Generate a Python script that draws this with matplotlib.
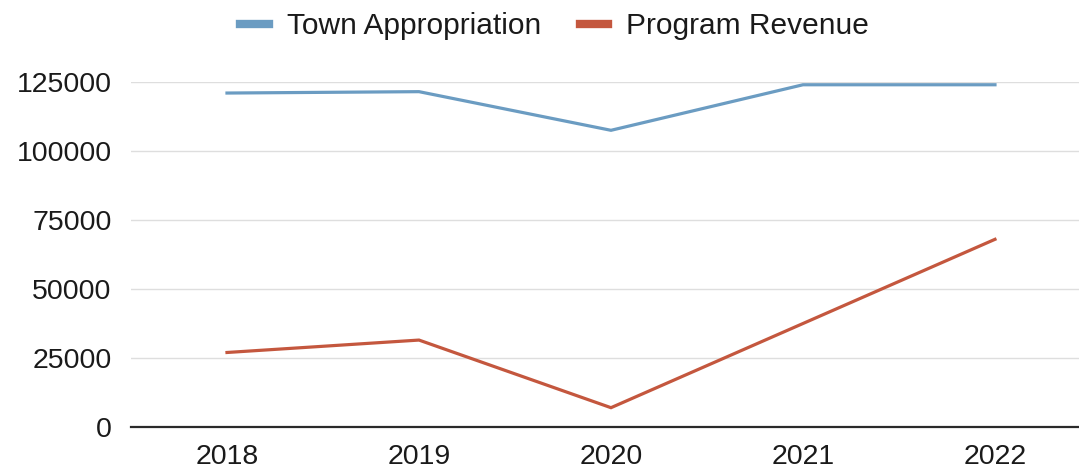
import matplotlib.pyplot as plt

# valeurs
years = ['2018', '2019', '2020', '2021', '2022']
town_appropriation = [121000, 121500, 107500, 124000, 124000]
program_revenue = [27000, 31500, 7000, 37500, 68000]
yticks = [0, 25000, 50000, 75000, 100000, 125000]

plt.rcParams['font.family'] = ['Liberation Sans', 'DejaVu Sans']

fig = plt.figure(figsize=(10.79, 4.71), dpi=100)
ax = fig.add_axes([0.1214, 0.0934, 0.8897, 0.7325])

x = list(range(len(years)))
ax.plot(x, town_appropriation, color='#6b9cc2', linewidth=2.3, label='Town Appropriation',
        clip_on=False, solid_joinstyle='miter')
ax.plot(x, program_revenue, color='#c4573e', linewidth=2.3, label='Program Revenue',
        clip_on=False, solid_joinstyle='miter')

ax.set_xlim(-0.5, len(years) - 0.5)
ax.set_ylim(0, 125000)
ax.set_xticks(x)
ax.set_xticklabels(years)
ax.set_yticks(yticks)
ax.set_yticklabels([str(v) for v in yticks])
ax.tick_params(axis='both', length=0, labelsize=20.5, colors='#1a1a1a')
ax.tick_params(axis='y', pad=14)
ax.tick_params(axis='x', pad=12)

ax.grid(axis='y', color='#dedede', linewidth=1.0)
ax.set_axisbelow(True)
for s in ['top', 'right', 'left']:
    ax.spines[s].set_visible(False)
ax.spines['bottom'].set_color('#2a2a2a')
ax.spines['bottom'].set_linewidth(1.6)

leg = fig.legend(loc='center', bbox_to_anchor=(0.514, 0.944), ncol=2, frameon=False,
                 fontsize=21.5, handlelength=0.95, handletextpad=0.6, columnspacing=1.3)
for h in leg.get_lines():
    h.set_linewidth(6)
for t in leg.get_texts():
    t.set_color('#1a1a1a')

fig.savefig('out.png', dpi=100)
